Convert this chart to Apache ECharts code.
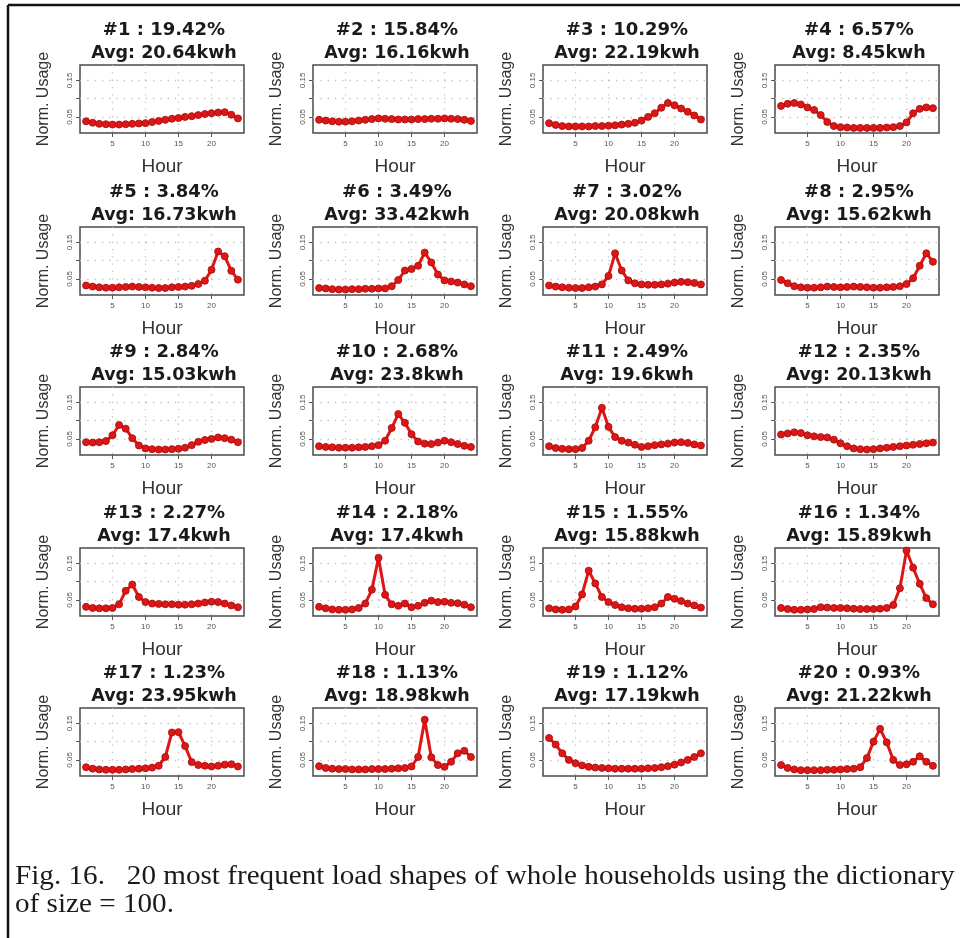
<!DOCTYPE html>
<html>
<head>
<meta charset="utf-8">
<script src="https://cdn.jsdelivr.net/npm/echarts@6/dist/echarts.min.js"></script>
<style>
html,body{margin:0;padding:0;background:#fff;}
#chart{width:960px;height:938px;}
</style>
</head>
<body>
<div id="chart"></div>
<script>
// ---------------- data ----------------
const hours = [1,2,3,4,5,6,7,8,9,10,11,12,13,14,15,16,17,18,19,20,21,22,23,24];
const shapeIds = ['#1','#2','#3','#4','#5','#6','#7','#8','#9','#10','#11','#12','#13','#14','#15','#16','#17','#18','#19','#20'];
const shares = ['19.42%','15.84%','10.29%','6.57%','3.84%','3.49%','3.02%','2.95%','2.84%','2.68%','2.49%','2.35%','2.27%','2.18%','1.55%','1.34%','1.23%','1.13%','1.12%','0.93%'];
const avgUsage = ['20.64kwh','16.16kwh','22.19kwh','8.45kwh','16.73kwh','33.42kwh','20.08kwh','15.62kwh','15.03kwh','23.8kwh','19.6kwh','20.13kwh','17.4kwh','17.4kwh','15.88kwh','15.89kwh','23.95kwh','18.98kwh','17.19kwh','21.22kwh'];

const shape1  = [0.038,0.034,0.031,0.030,0.029,0.029,0.030,0.031,0.032,0.033,0.036,0.039,0.042,0.045,0.047,0.050,0.052,0.055,0.058,0.060,0.062,0.063,0.056,0.046];
const shape2  = [0.042,0.040,0.038,0.037,0.037,0.038,0.040,0.042,0.044,0.046,0.045,0.044,0.043,0.043,0.043,0.044,0.044,0.045,0.045,0.046,0.045,0.044,0.042,0.039];
const shape3  = [0.033,0.028,0.025,0.024,0.024,0.024,0.024,0.025,0.025,0.026,0.027,0.029,0.031,0.034,0.040,0.050,0.060,0.075,0.088,0.082,0.073,0.064,0.054,0.043];
const shape4  = [0.080,0.086,0.088,0.084,0.076,0.069,0.055,0.036,0.025,0.022,0.021,0.020,0.020,0.020,0.020,0.020,0.021,0.022,0.025,0.035,0.060,0.072,0.076,0.074];
const shape5  = [0.032,0.029,0.027,0.026,0.026,0.027,0.028,0.029,0.028,0.027,0.026,0.025,0.025,0.027,0.028,0.029,0.031,0.036,0.045,0.075,0.125,0.112,0.072,0.048];
const shape6  = [0.025,0.024,0.022,0.021,0.021,0.022,0.022,0.023,0.023,0.024,0.024,0.030,0.047,0.073,0.077,0.086,0.122,0.095,0.062,0.046,0.043,0.040,0.035,0.030];
const shape7  = [0.032,0.029,0.027,0.026,0.025,0.025,0.027,0.029,0.035,0.058,0.120,0.073,0.046,0.038,0.035,0.034,0.034,0.035,0.037,0.040,0.042,0.041,0.039,0.035];
const shape8  = [0.047,0.038,0.030,0.027,0.026,0.026,0.027,0.029,0.028,0.027,0.028,0.029,0.028,0.027,0.026,0.026,0.027,0.028,0.030,0.036,0.052,0.086,0.120,0.097];
const shape9  = [0.041,0.040,0.041,0.044,0.060,0.088,0.078,0.052,0.032,0.024,0.022,0.021,0.021,0.022,0.023,0.026,0.033,0.042,0.047,0.050,0.054,0.052,0.048,0.041];
const shape10 = [0.030,0.028,0.027,0.026,0.026,0.026,0.027,0.028,0.030,0.033,0.045,0.080,0.118,0.094,0.063,0.043,0.037,0.036,0.040,0.045,0.041,0.036,0.031,0.028];
const shape11 = [0.030,0.025,0.023,0.022,0.022,0.025,0.045,0.082,0.135,0.083,0.055,0.045,0.040,0.034,0.028,0.030,0.033,0.035,0.037,0.040,0.041,0.039,0.035,0.032];
const shape12 = [0.062,0.065,0.068,0.066,0.060,0.057,0.055,0.054,0.048,0.038,0.030,0.024,0.022,0.021,0.022,0.024,0.026,0.028,0.030,0.032,0.034,0.036,0.038,0.040];
const shape13 = [0.031,0.028,0.027,0.027,0.028,0.038,0.075,0.092,0.058,0.044,0.040,0.039,0.038,0.038,0.037,0.037,0.038,0.040,0.043,0.045,0.044,0.040,0.035,0.030];
const shape14 = [0.031,0.027,0.024,0.023,0.023,0.024,0.028,0.040,0.078,0.165,0.064,0.038,0.034,0.040,0.030,0.034,0.042,0.048,0.044,0.045,0.042,0.041,0.037,0.030];
const shape15 = [0.027,0.024,0.023,0.024,0.032,0.065,0.130,0.095,0.058,0.044,0.036,0.030,0.027,0.026,0.026,0.027,0.030,0.040,0.058,0.053,0.047,0.040,0.035,0.029];
const shape16 = [0.028,0.025,0.023,0.023,0.024,0.025,0.030,0.029,0.028,0.028,0.027,0.026,0.025,0.025,0.025,0.026,0.028,0.036,0.082,0.185,0.138,0.094,0.055,0.038];
const shape17 = [0.030,0.026,0.024,0.023,0.023,0.023,0.024,0.025,0.026,0.027,0.029,0.034,0.058,0.125,0.126,0.088,0.044,0.036,0.034,0.032,0.034,0.037,0.038,0.032];
const shape18 = [0.033,0.028,0.026,0.025,0.025,0.024,0.024,0.024,0.025,0.025,0.025,0.026,0.027,0.028,0.032,0.058,0.160,0.057,0.036,0.031,0.045,0.068,0.075,0.058];
const shape19 = [0.110,0.092,0.068,0.050,0.041,0.035,0.031,0.029,0.028,0.027,0.026,0.026,0.026,0.026,0.026,0.027,0.028,0.030,0.033,0.037,0.043,0.050,0.058,0.068];
const shape20 = [0.036,0.028,0.024,0.022,0.022,0.022,0.022,0.023,0.023,0.024,0.025,0.026,0.030,0.055,0.100,0.135,0.098,0.050,0.036,0.038,0.045,0.060,0.045,0.034];

const shapes = [shape1,shape2,shape3,shape4,shape5,shape6,shape7,shape8,shape9,shape10,
                shape11,shape12,shape13,shape14,shape15,shape16,shape17,shape18,shape19,shape20];

const xTickValues = [5,10,15,20];
const yTickValues = [0.05,0.10,0.15];
const yLabelValues = [0.05,0.15];
const xLabel = 'Hour';
const yLabel = 'Norm. Usage';
const captionLine1 = 'Fig. 16.   20 most frequent load shapes of whole households using the dictionary';
const captionLine2 = 'of size = 100.';

// ---------------- layout ----------------
const colLefts = [80, 313, 543, 775];
const rowTops = [65, 227, 387, 548, 708];
const boxW = 164, boxH = 68;
const xMin = 0.08, xMax = 24.92;
const yMin = 0.006, yMax = 0.192;

const red = '#de1616';
const grids = [], xAxes = [], yAxes = [], series = [], titles = [];

shapes.forEach((vals, i) => {
  const col = i % 4, row = Math.floor(i / 4);
  const L = colLefts[col], T = rowTops[row];
  grids.push({
    left: L, top: T, width: boxW, height: boxH,
    show: true, borderColor: '#4a4a4a', borderWidth: 1.5, backgroundColor: 'transparent'
  });
  xAxes.push({
    type: 'value', gridIndex: i, min: xMin, max: xMax,
    name: xLabel, nameLocation: 'middle', nameGap: 24,
    nameTextStyle: {fontFamily: 'Liberation Sans', fontSize: 19, color: '#333'},
    axisLine: {show: false},
    axisTick: {show: true, customValues: xTickValues, length: 4, lineStyle: {color: '#555', width: 1}},
    axisLabel: {customValues: xTickValues, fontFamily: 'Liberation Sans', fontSize: 8, color: '#555', margin: 7},
    splitLine: {show: true, lineStyle: {color: '#c0c0c0', width: 1.3, type: [1.3, 6]}}
  });
  yAxes.push({
    type: 'value', gridIndex: i, min: yMin, max: yMax,
    name: yLabel, nameLocation: 'middle', nameGap: 28,
    nameTextStyle: {fontFamily: 'Liberation Sans', fontSize: 16, color: '#333'},
    axisLine: {show: false},
    axisTick: {show: true, customValues: yTickValues, length: 4, lineStyle: {color: '#555', width: 1}},
    axisLabel: {customValues: yLabelValues, rotate: 90, fontFamily: 'Liberation Sans', fontSize: 8, color: '#555', margin: 6,
                formatter: v => v.toFixed(2)},
    splitLine: {show: true, lineStyle: {color: '#c0c0c0', width: 1.3, type: [1.3, 6]}}
  });
  series.push({
    type: 'line', xAxisIndex: i, yAxisIndex: i,
    data: hours.map((h, k) => [h, vals[k]]),
    symbol: 'circle', symbolSize: 7, showAllSymbol: true,
    lineStyle: {color: red, width: 3},
    itemStyle: {color: red, borderColor: '#aa1010', borderWidth: 0.9},
    emphasis: {disabled: true}, silent: true
  });
  titles.push({
    text: '{a|' + shapeIds[i] + ' : ' + shares[i] + '}\n{b|Avg: ' + avgUsage[i] + '}',
    left: L + boxW / 2 + 2, top: T - 46, textAlign: 'center', padding: 0,
    textStyle: {
      rich: {
        a: {fontFamily: 'DejaVu Sans', fontWeight: 'bold', fontSize: 18, color: '#1a1a1a', lineHeight: 23, align: 'center'},
        b: {fontFamily: 'DejaVu Sans', fontWeight: 'bold', fontSize: 17.5, color: '#1a1a1a', lineHeight: 23, align: 'center'}
      }
    }
  });
});

const chart = echarts.init(document.getElementById('chart'), null, {renderer: 'canvas'});
chart.setOption({
  animation: false,
  backgroundColor: '#fff',
  title: titles,
  grid: grids,
  xAxis: xAxes,
  yAxis: yAxes,
  series: series,
  graphic: [
    {type: 'line', shape: {x1: 8, y1: 5, x2: 960, y2: 5}, style: {stroke: '#111', lineWidth: 2.5}, silent: true},
    {type: 'line', shape: {x1: 8, y1: 5, x2: 8, y2: 938}, style: {stroke: '#111', lineWidth: 2.5}, silent: true},
    {type: 'text', x: 15, y: 877, scaleX: 1.08, silent: true,
     style: {text: captionLine1, font: '27px "Liberation Serif"', fill: '#1a1a1a', textVerticalAlign: 'middle', verticalAlign: 'middle'}},
    {type: 'text', x: 15, y: 905, scaleX: 1.08, silent: true,
     style: {text: captionLine2, font: '27px "Liberation Serif"', fill: '#1a1a1a', textVerticalAlign: 'middle', verticalAlign: 'middle'}}
  ]
});
</script>
</body>
</html>
